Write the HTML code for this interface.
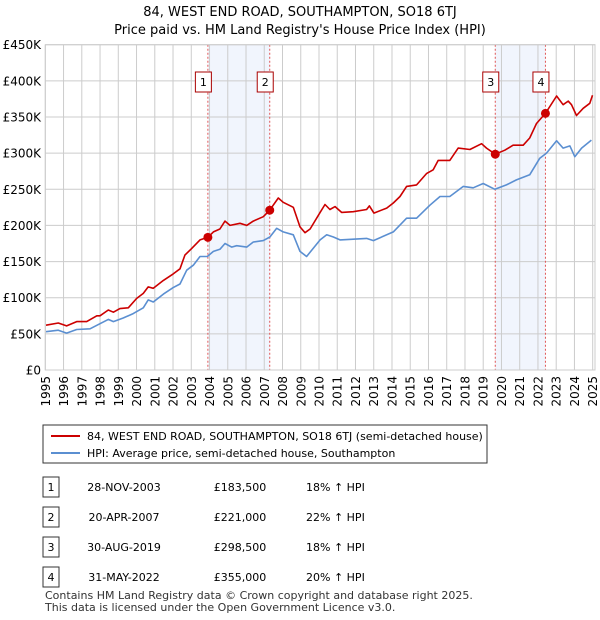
<!DOCTYPE html>
<html><head><meta charset="utf-8"><style>
body{margin:0;background:#fff;font-family:"Liberation Sans","DejaVu Sans",sans-serif;}
#wrap{position:relative;width:600px;height:620px;overflow:hidden}
</style></head><body><div id="wrap">
<svg id="chart" width="600" height="620" xmlns="http://www.w3.org/2000/svg" font-family="DejaVu Sans, Liberation Sans, sans-serif">
<text x="300" y="16" text-anchor="middle" font-size="13" fill="#000">84, WEST END ROAD, SOUTHAMPTON, SO18 6TJ</text>
<text x="300" y="34" text-anchor="middle" font-size="13" fill="#000">Price paid vs. HM Land Registry's House Price Index (HPI)</text>
<g id="bands"></g><g id="grid"></g><g id="vlines"></g><g id="series"></g><g id="axes"></g><g id="markers"></g>
<g>
<rect x="43" y="425" width="444" height="38" fill="#fff" stroke="#333"/>
<line x1="51" y1="436" x2="80" y2="436" stroke="#cc0000" stroke-width="2"/>
<text x="87" y="440" font-size="11">84, WEST END ROAD, SOUTHAMPTON, SO18 6TJ (semi-detached house)</text>
<line x1="51" y1="453" x2="80" y2="453" stroke="#5b8fd1" stroke-width="2"/>
<text x="87" y="457" font-size="11">HPI: Average price, semi-detached house, Southampton</text>
</g>
<g id="table" font-size="11"></g>
<text x="45" y="599" font-size="11" fill="#333">Contains HM Land Registry data © Crown copyright and database right 2025.</text>
<text x="45" y="611" font-size="11" fill="#333">This data is licensed under the Open Government Licence v3.0.</text>
</svg></div>
<script>
const hpiYears=[1995.04,1995.71,1996.17,1996.72,1997.45,1998.0,1998.45,1998.73,1999.27,1999.82,2000.37,2000.64,2000.92,2001.47,2002.01,2002.38,2002.75,2003.11,2003.48,2003.88,2004.21,2004.57,2004.85,2005.21,2005.49,2006.04,2006.40,2006.95,2007.31,2007.68,2008.04,2008.59,2008.96,2009.32,2010.06,2010.42,2010.79,2011.15,2012.61,2012.98,2014.07,2014.80,2015.35,2016.08,2016.63,2017.17,2017.91,2018.45,2019.00,2019.64,2020.27,2020.82,2021.55,2022.10,2022.47,2023.02,2023.38,2023.75,2024.02,2024.39,2024.93];
const hpiValues=[53,55,51,56,57,64,70,67,72,78,86,97,94,105,114,119,138,145,157,157,164,167,175,170,172,170,177,179,184,196,191,187,164,157,180,187,184,180,182,179,191,210,210,228,240,240,254,252,258,250,256,263,270,293,300,317,307,310,295,307,318];
const propYears=[1995.04,1995.71,1996.17,1996.72,1997.27,1997.82,1998.0,1998.45,1998.73,1999.09,1999.55,2000.01,2000.37,2000.64,2000.92,2001.47,2002.01,2002.38,2002.65,2003.02,2003.48,2003.91,2004.21,2004.57,2004.85,2005.12,2005.67,2006.04,2006.40,2006.95,2007.30,2007.77,2008.04,2008.59,2008.96,2009.23,2009.51,2010.06,2010.33,2010.60,2010.88,2011.24,2011.88,2012.61,2012.76,2013.01,2013.71,2014.07,2014.44,2014.80,2015.35,2015.90,2016.26,2016.53,2017.17,2017.63,2018.27,2018.91,2019.18,2019.66,2020.18,2020.64,2021.19,2021.55,2021.92,2022.41,2023.02,2023.38,2023.66,2023.84,2024.11,2024.48,2024.84,2024.99];
const propValues=[62,65,61,67,67,75,75,83,80,85,86,99,106,115,113,124,133,140,159,168,180,183.5,191,195,206,200,203,200,206,212,221,238,232,225,198,190,195,218,229,222,226,218,219,222,227,217,224,231,240,254,256,272,277,290,290,307,305,313,307,298.5,304,311,311,321,341,355,379,367,372,367,352,362,369,380];
const saleIds=["1","2","3","4"];
const saleYears=[2003.91,2007.30,2019.66,2022.41];
const saleValues=[183.5,221,298.5,355];
const saleDates=["28-NOV-2003","20-APR-2007","30-AUG-2019","31-MAY-2022"];
const salePrices=["£183,500","£221,000","£298,500","£355,000"];
const salePct=["18% ↑ HPI","22% ↑ HPI","18% ↑ HPI","20% ↑ HPI"];
const bandStarts=[2003.91,2019.66];
const bandEnds=[2007.30,2022.41];
const yTicks=[0,50,100,150,200,250,300,350,400,450];
const yTickLabels=["£0","£50K","£100K","£150K","£200K","£250K","£300K","£350K","£400K","£450K"];
const xTicks=[1995,1996,1997,1998,1999,2000,2001,2002,2003,2004,2005,2006,2007,2008,2009,2010,2011,2012,2013,2014,2015,2016,2017,2018,2019,2020,2021,2022,2023,2024,2025];

const NS="http://www.w3.org/2000/svg";
const X0=45.3,X1=592.7,Y0=370,Y1=44.7;
const xs=y=>X0+(y-1995)/30*(X1-X0);
const ys=v=>Y0-v/450*(Y0-Y1);
function mk(parent,tag,attrs){const e=document.createElementNS(NS,tag);for(const k in attrs)e.setAttribute(k,attrs[k]);document.getElementById(parent).appendChild(e);return e;}

bandStarts.forEach((s,i)=>{const r=mk('bands','rect',{x:xs(s),y:Y1,width:xs(bandEnds[i])-xs(s),height:Y0-Y1,fill:'#eef3fc',opacity:0.8});

});
yTicks.forEach((t,i)=>{const l=mk('grid','line',{x1:X0,x2:595,y1:ys(t),y2:ys(t),stroke:'#cccccc'});


const tx=mk('axes','text',{x:41,y:ys(t)+4.5,'text-anchor':'end','font-size':12});tx.textContent=yTickLabels[i];

});
xTicks.forEach(t=>{const l=mk('grid','line',{x1:xs(t),x2:xs(t),y1:Y1,y2:Y0,stroke:'#cccccc'});


const tx=mk('axes','text',{x:0,y:0,'text-anchor':'end','font-size':12,transform:`translate(${xs(t)+4.5},${Y0+6}) rotate(-90)`});tx.textContent=t;

});
const fr=mk('axes','rect',{x:X0,y:Y1,width:595-X0,height:Y0-Y1,fill:'none',stroke:'#cccccc'});


saleYears.forEach((s,i)=>{const l=mk('vlines','line',{x1:xs(s),x2:xs(s),y1:Y1,y2:Y0,stroke:'#e05555','stroke-dasharray':'2,2'});

});
function path(yrs,vals,color,name){const d=yrs.map((y,i)=>(i?'L':'M')+xs(y).toFixed(1)+','+ys(vals[i]).toFixed(1)).join('');
const p=mk('series','path',{d:d,fill:'none',stroke:color,'stroke-width':1.6,'stroke-linejoin':'round'});

}
path(hpiYears,hpiValues,'#5b8fd1','hpi-line');
path(propYears,propValues,'#cc0000','property-price-line');
saleYears.forEach((s,i)=>{const c=mk('markers','circle',{cx:xs(s),cy:ys(saleValues[i]),r:4.5,fill:'#cc0000'});


const b=mk('markers','rect',{x:xs(s)-12.5,y:72,width:16,height:20,fill:'#fff',stroke:'#aa0000'});


const t=mk('markers','text',{x:xs(s)-4.5,y:86,'text-anchor':'middle','font-size':11});t.textContent=saleIds[i];


const ry=487+i*30;
const tb=mk('table','rect',{x:43,y:ry-10,width:16,height:20,fill:'#fff',stroke:'#333'});


const cols=[[51,saleIds[i],'middle'],[124,saleDates[i],'middle'],[240,salePrices[i],'middle'],[306,salePct[i],'start']];
cols.forEach((c,j)=>{const e=mk('table','text',{x:c[0],y:ry+4,'text-anchor':c[2]});e.textContent=c[1];

});});
</script></body></html>
